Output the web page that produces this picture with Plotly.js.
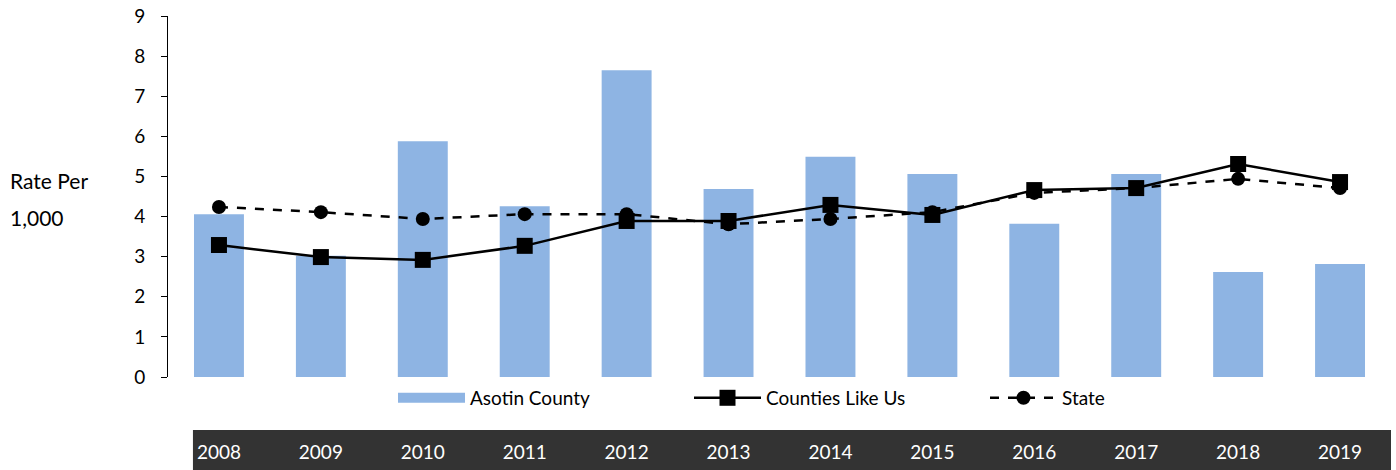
<!DOCTYPE html>
<html>
<head>
<meta charset="utf-8">
<script src="https://cdn.plot.ly/plotly-3.0.1.min.js"></script>
<style>html,body{margin:0;padding:0;background:#fff;}#chart{width:1396px;height:470px;}</style>
</head>
<body>
<div id="chart"></div>
<script>
const years = ["2008","2009","2010","2011","2012","2013","2014","2015","2016","2017","2018","2019"];
const asotin = [4.06, 3.02, 5.88, 4.26, 7.65, 4.69, 5.49, 5.06, 3.82, 5.06, 2.62, 2.82];
const countiesLikeUs = [3.29, 2.99, 2.92, 3.27, 3.89, 3.89, 4.29, 4.04, 4.66, 4.71, 5.31, 4.86];
const state = [4.24, 4.11, 3.94, 4.06, 4.06, 3.81, 3.94, 4.11, 4.59, 4.71, 4.94, 4.71];
const yTicks = [0,1,2,3,4,5,6,7,8,9];

const FONT = "Lato, 'Open Sans', sans-serif";
const BAR_COLOR = "#8EB4E3";

const traces = [
  // legend-only swatch for the bar series (wide rectangle, like the original legend)
  {type:"scatter", mode:"lines", name:"Asotin County", x:[null], y:[null], legendgroup:"asotin",
   line:{color:BAR_COLOR, width:13}, hoverinfo:"skip"},
  {type:"bar", name:"Asotin County", x:years, y:asotin, marker:{color:BAR_COLOR}, width:0.49,
   legendgroup:"asotin", showlegend:false},
  {type:"scatter", mode:"lines+markers", name:"Counties Like Us", x:years, y:countiesLikeUs,
   line:{color:"#000", width:2.5}, marker:{symbol:"square", size:16, color:"#000"}},
  {type:"scatter", mode:"lines+markers", name:"State", x:years, y:state,
   line:{color:"#000", width:2.5, dash:"dash"}, marker:{symbol:"circle", size:14, color:"#000"}}
];

const layout = {
  width:1396, height:470,
  margin:{l:168, r:5, t:16, b:93},
  paper_bgcolor:"#fff", plot_bgcolor:"#fff",
  font:{family:FONT, size:19, color:"#000"},
  xaxis:{type:"category", range:[-0.5, 11.5], autorange:false, showline:false, showgrid:false, zeroline:false, ticks:"",
         tickfont:{color:"#fff", size:19, family:FONT}, ticklabelstandoff:62},
  yaxis:{range:[0,9], autorange:false, tickvals:yTicks, showgrid:false, zeroline:false, showline:true,
         linecolor:"#000", linewidth:1, ticks:"outside", ticklen:6, tickcolor:"#000",
         ticklabelstandoff:12, tickfont:{size:19, family:FONT}},
  showlegend:true,
  legend:{orientation:"h", x:(393-168)/1223, xanchor:"left", y:-0.058, yanchor:"middle",
          entrywidth:214, entrywidthmode:"pixels", font:{size:19, family:FONT}, itemwidth:67,
          bgcolor:"rgba(0,0,0,0)"},
  shapes:[{type:"rect", xref:"paper", yref:"paper", x0:0.0204, x1:1.0, y0:-0.147, y1:-0.27,
           fillcolor:"#333333", line:{width:0}, layer:"below"}],
  annotations:[
    {text:"Rate Per", xref:"paper", yref:"paper", x:(8-168)/1223, xanchor:"left", y:(377-180)/361, yanchor:"middle", showarrow:false, font:{size:21, family:FONT}},
    {text:"1,000", xref:"paper", yref:"paper", x:(8-168)/1223, xanchor:"left", y:(377-217)/361, yanchor:"middle", showarrow:false, font:{size:21, family:FONT}}
  ]
};

Plotly.newPlot("chart", traces, layout, {displayModeBar:false, staticPlot:true});
</script>
</body>
</html>
